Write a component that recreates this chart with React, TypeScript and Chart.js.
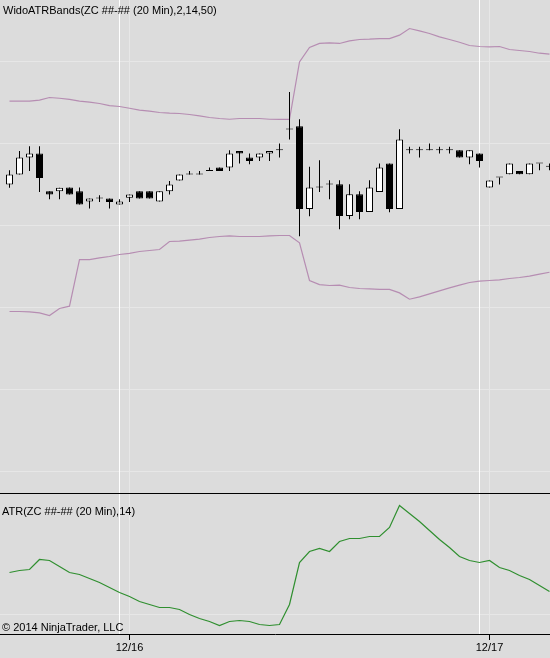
import React, { useEffect, useRef } from 'react';
import { Chart, registerables } from 'chart.js';

Chart.register(...registerables);

// ---------------- data ----------------
const opens = [
  405.0, 406.22, 408.29, 408.78, 404.18, 404.18, 404.63, 404.18, 402.93, 403.29,
  403.29, 402.56, 403.37, 404.18, 404.18, 402.93, 404.18, 405.49, 406.22, 406.22,
  406.66, 407.07, 407.07, 409.1, 408.29, 408.29, 408.78, 409.18, 411.71, 412.11,
  402.02, 404.63, 405.0, 405.04, 401.17, 403.82, 401.66, 404.1, 407.56, 402.02,
  409.18, 409.18, 409.18, 409.18, 409.18, 409.18, 408.29, 408.78, 404.63, 405.85,
  406.26, 406.66, 406.26, 407.56, 407.15,
];
const highs = [
  406.74, 409.1, 409.67, 409.67, 404.18, 404.59, 404.63, 404.63, 403.29, 403.7,
  403.29, 403.21, 403.78, 404.18, 404.18, 404.18, 405.44, 406.22, 406.66, 406.66,
  407.07, 407.07, 409.18, 409.1, 408.78, 408.78, 409.1, 410.0, 416.29, 412.96,
  407.15, 407.96, 405.52, 405.52, 405.04, 404.18, 405.52, 407.56, 407.56, 411.74,
  409.59, 409.59, 410.0, 409.59, 409.59, 409.18, 409.18, 408.78, 405.49, 405.85,
  407.56, 406.66, 407.56, 407.56, 407.56,
];
const lows = [
  404.59, 406.22, 406.66, 404.1, 403.21, 403.21, 403.78, 402.56, 402.07, 402.88,
  402.07, 402.56, 402.88, 403.29, 403.29, 402.93, 403.78, 405.49, 406.22, 406.22,
  406.66, 406.66, 406.66, 407.56, 407.48, 407.88, 407.88, 408.29, 410.49, 398.7,
  401.13, 404.1, 403.21, 399.55, 400.77, 400.77, 401.66, 404.1, 401.62, 402.02,
  408.78, 408.29, 409.18, 408.78, 408.78, 408.29, 407.48, 407.07, 404.63, 405.0,
  406.26, 406.26, 406.26, 406.74, 406.74,
];
const closes = [
  406.22, 408.29, 408.78, 405.8, 403.78, 404.59, 403.78, 402.56, 403.29, 403.29,
  402.88, 402.93, 403.78, 403.29, 403.29, 404.18, 405.0, 406.22, 406.22, 406.22,
  406.66, 406.66, 408.78, 408.78, 407.88, 408.78, 409.1, 409.18, 411.71, 402.02,
  404.63, 404.63, 405.0, 401.17, 403.82, 401.66, 404.63, 407.07, 402.02, 410.49,
  409.18, 409.18, 409.18, 409.18, 409.18, 408.29, 409.18, 407.88, 405.49, 405.85,
  407.56, 406.26, 407.56, 407.56, 407.15,
];
const upperBand = [
  415.16, 415.16, 415.16, 415.28, 415.61, 415.52, 415.37, 415.16, 415.04, 414.88,
  414.63, 414.51, 414.3, 414.06, 413.94, 413.78, 413.7, 413.66, 413.54, 413.37,
  413.17, 413.05, 412.96, 413.05, 413.05, 413.05, 412.96, 412.93, 412.93, 419.95,
  421.71, 422.2, 422.27, 422.2, 422.51, 422.68, 422.72, 422.8, 422.8, 423.21,
  424.02, 423.73, 423.41, 423.0, 422.68, 422.35, 421.95, 421.83, 421.78, 421.83,
  421.46, 421.34, 421.22, 421.01, 420.89,
];
const lowerBand = [
  389.51, 389.51, 389.46, 389.34, 389.02, 389.88, 390.16, 395.85, 395.85, 396.05,
  396.22, 396.46, 396.59, 396.83, 396.95, 397.07, 398.05, 398.09, 398.21, 398.33,
  398.54, 398.66, 398.73, 398.66, 398.66, 398.66, 398.73, 398.78, 398.78, 397.88,
  393.29, 392.8, 392.68, 392.72, 392.44, 392.32, 392.27, 392.2, 392.2, 391.78,
  391.01, 391.29, 391.66, 392.02, 392.39, 392.72, 393.05, 393.21, 393.29, 393.37,
  393.54, 393.66, 393.82, 394.06, 394.3,
];
const atrValues = [
  1.42, 1.44, 1.45, 1.55, 1.54, 1.48, 1.42, 1.4, 1.36, 1.32,
  1.27, 1.22, 1.18, 1.13, 1.1, 1.07, 1.07, 1.05, 1.0, 0.96,
  0.93, 0.89, 0.93, 0.94, 0.93, 0.9, 0.89, 0.9, 1.1, 1.52,
  1.63, 1.66, 1.63, 1.73, 1.76, 1.76, 1.78, 1.78, 1.87, 2.09,
  2.01, 1.93, 1.84, 1.75, 1.67, 1.58, 1.54, 1.52, 1.54, 1.47,
  1.44, 1.39, 1.35, 1.29, 1.23,
];
const tickIndices = [12, 48];
const tickLabels = ['12/16', '12/17'];
const sessionBreaks = [11, 47];
const priceGridValues = [420, 410, 400, 390, 380, 370];
const atrGridValues = [1.0];

const mainTitle = 'WidoATRBands(ZC ##-## (20 Min),2,14,50)';
const atrTitle = 'ATR(ZC ##-## (20 Min),14)';
const copyright = '\u00A9 2014 NinjaTrader, LLC';

// ---------------- view ranges / styles ----------------
const X_MIN = -0.95;
const X_MAX = 54.05;
const PRICE_MAX = 427.5;
const PRICE_MIN = 367.378;
const ATR_MAX = 2.215;
const ATR_MIN = 0.805;

const FONT = '"Liberation Sans", Arial, Helvetica, sans-serif';
const BG = '#DCDCDC';
const GRID = '#E7E7E7';
const BAND = '#B68DB2';
const ATR_COLOR = '#2F8F2F';

const idx = opens.map((_, i) => i);

const panelPlugin = {
  id: 'panel',
  beforeDatasetsDraw(chart: any, _args: any, opts: any) {
    const { ctx, chartArea } = chart;
    const { left, right, top, bottom } = chartArea;
    const xs = chart.scales.x;
    const ys = chart.scales.y;
    ctx.save();
    ctx.lineWidth = 1;
    ctx.strokeStyle = GRID;
    ctx.beginPath();
    (opts.yLines || []).forEach((v: number) => {
      const p = Math.floor(ys.getPixelForValue(v)) + 0.5;
      ctx.moveTo(left, p);
      ctx.lineTo(right, p);
    });
    (opts.xLines || []).forEach((v: number) => {
      const p = Math.floor(xs.getPixelForValue(v)) + 0.5;
      ctx.moveTo(p, top);
      ctx.lineTo(p, bottom);
    });
    ctx.stroke();
    ctx.strokeStyle = '#FFFFFF';
    ctx.beginPath();
    (opts.breaks || []).forEach((v: number) => {
      const p = Math.floor(xs.getPixelForValue(v)) + 0.5;
      ctx.moveTo(p, top);
      ctx.lineTo(p, bottom);
    });
    ctx.stroke();
    ctx.restore();
  },
  afterDraw(chart: any, _args: any, opts: any) {
    const { ctx } = chart;
    ctx.save();
    ctx.fillStyle = '#000000';
    if (opts.topRule) ctx.fillRect(0, 0, chart.width, 1);
    ctx.font = `11px ${FONT}`;
    ctx.textAlign = 'left';
    ctx.textBaseline = 'alphabetic';
    (opts.texts || []).forEach((t: any) => ctx.fillText(t.text, t.x, t.y));
    ctx.restore();
  },
};

function mainConfig(): any {
  return {
    type: 'line',
    data: {
      datasets: [
        {
          type: 'bar',
          label: 'body',
          order: 1,
          data: idx.map((i) => ({ x: i, y: [opens[i], closes[i]] })),
          backgroundColor: idx.map((i) => (closes[i] > opens[i] ? '#FFFFFF' : '#000000')),
          borderColor: '#000000',
          borderWidth: 1,
          borderSkipped: false,
          barThickness: 7,
          minBarLength: 1,
          grouped: false,
          inflateAmount: 0,
        },
        {
          type: 'bar',
          label: 'wick',
          order: 2,
          data: idx.map((i) => ({ x: i, y: [lows[i], highs[i]] })),
          backgroundColor: '#000000',
          borderWidth: 0,
          barThickness: 1,
          grouped: false,
          inflateAmount: 0,
        },
        {
          type: 'line',
          label: 'Upper',
          order: 3,
          data: idx.map((i) => ({ x: i, y: upperBand[i] })),
          borderColor: BAND,
          borderWidth: 1.2,
          pointRadius: 0,
          tension: 0,
          fill: false,
        },
        {
          type: 'line',
          label: 'Lower',
          order: 3,
          data: idx.map((i) => ({ x: i, y: lowerBand[i] })),
          borderColor: BAND,
          borderWidth: 1.2,
          pointRadius: 0,
          tension: 0,
          fill: false,
        },
      ],
    },
    options: {
      responsive: false,
      maintainAspectRatio: false,
      animation: false,
      events: [],
      layout: { padding: 0 },
      scales: {
        x: { type: 'linear', display: false, min: X_MIN, max: X_MAX, offset: false },
        y: { type: 'linear', display: false, min: PRICE_MIN, max: PRICE_MAX, beginAtZero: false },
      },
      plugins: {
        legend: { display: false },
        tooltip: { enabled: false },
        panel: {
          yLines: priceGridValues,
          xLines: tickIndices,
          breaks: sessionBreaks,
          texts: [{ text: mainTitle, x: 3, y: 14 }],
        },
      },
    },
    plugins: [panelPlugin],
  };
}

function atrConfig(): any {
  return {
    type: 'line',
    data: {
      datasets: [
        {
          label: 'ATR',
          data: idx.map((i) => ({ x: i, y: atrValues[i] })),
          borderColor: ATR_COLOR,
          borderWidth: 1.2,
          pointRadius: 0,
          tension: 0,
          fill: false,
        },
      ],
    },
    options: {
      responsive: false,
      maintainAspectRatio: false,
      animation: false,
      events: [],
      layout: { padding: { left: 0, right: 0, top: 0, bottom: 2.4 } },
      scales: {
        x: {
          type: 'linear',
          min: X_MIN,
          max: X_MAX,
          offset: false,
          afterBuildTicks: (scale: any) => {
            scale.ticks = tickIndices.map((v) => ({ value: v }));
          },
          ticks: {
            autoSkip: false,
            maxRotation: 0,
            padding: 1.2,
            color: '#000000',
            font: { family: FONT, size: 11, lineHeight: 1.2 },
            callback: (value: number) => {
              const k = tickIndices.indexOf(value);
              return k >= 0 ? tickLabels[k] : '';
            },
          },
          grid: {
            color: GRID,
            tickColor: '#000000',
            tickLength: 6,
            lineWidth: 1,
            drawOnChartArea: true,
          },
          border: { display: true, color: '#000000', width: 1 },
        },
        y: { type: 'linear', display: false, min: ATR_MIN, max: ATR_MAX, beginAtZero: false },
      },
      plugins: {
        legend: { display: false },
        tooltip: { enabled: false },
        panel: {
          yLines: atrGridValues,
          xLines: [],
          breaks: sessionBreaks,
          topRule: true,
          texts: [
            { text: atrTitle, x: 2, y: 22 },
            { text: copyright, x: 2, y: 138 },
          ],
        },
      },
    },
    plugins: [panelPlugin],
  };
}

export default function App() {
  const mainRef = useRef<HTMLCanvasElement>(null);
  const atrRef = useRef<HTMLCanvasElement>(null);

  useEffect(() => {
    const c1 = new Chart(mainRef.current as HTMLCanvasElement, mainConfig());
    const c2 = new Chart(atrRef.current as HTMLCanvasElement, atrConfig());
    return () => {
      c1.destroy();
      c2.destroy();
    };
  }, []);

  return (
    <div
      style={{
        position: 'fixed',
        left: 0,
        top: 0,
        width: 550,
        height: 658,
        background: BG,
        overflow: 'hidden',
      }}
    >
      <canvas ref={mainRef} width={550} height={493} style={{ display: 'block', width: 550, height: 493 }} />
      <canvas ref={atrRef} width={550} height={165} style={{ display: 'block', width: 550, height: 165 }} />
    </div>
  );
}
